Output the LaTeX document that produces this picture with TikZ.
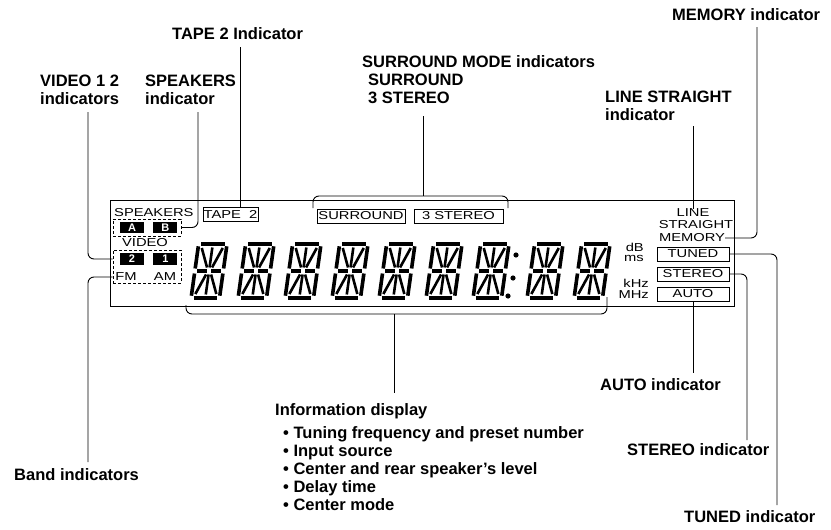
\documentclass[tikz,border=0pt]{standalone}
\usepackage{fontspec}
\setmainfont{Liberation Sans}
\newfontfamily\lcdfont[FakeStretch=1.28]{Liberation Sans}
\usetikzlibrary{positioning}

\tikzset{
  callout/.style={anchor=west, align=left, inner sep=0pt, font=\bfseries\fontsize{16.5}{18}\selectfont},
  leader/.style={line width=0.9pt, rounded corners=6pt},
  lcd/.style={inner sep=0pt, font=\lcdfont\fontsize{11.5}{12}\selectfont},
  lcdbox/.style={lcd, draw, line width=0.8pt, minimum height=14pt},
  keybox/.style={fill=black, text=white, inner sep=0pt, minimum width=24pt, minimum height=11.5pt, font=\bfseries\fontsize{11}{12}\selectfont},
  groupbox/.style={draw, dash pattern=on 3pt off 2pt, line width=0.7pt, inner sep=0pt},
  seg/.style={line width=3.6pt},
  thinseg/.style={line width=2.6pt},
}

\begin{document}
\begin{tikzpicture}[x=1pt, y=-1pt]
    % --- Configuration ---
    \def\digitY{300}    % bottom line of the digits
    \useasboundingbox (0,0) rectangle (831,530);

    % --- Display frame ---
    \draw[line width=1pt] (110,200) rectangle (734,306);

    % --- 14 segment digits ---
    \foreach \dx in {189,236,283,330,377,424,471,525,572} {
        \begin{scope}[shift={(\dx,\digitY)}, y=1pt, xslant=0.14]
            % outer frame and middle bars
            \foreach \p/\q in {{4.3,56.2}/{27.7,56.2}, {1.8,53.7}/{1.8,31.5}, {30.2,53.7}/{30.2,31.5},
                               {4.3,29}/{14,29}, {18,29}/{27.7,29},
                               {1.8,26.5}/{1.8,4.3}, {30.2,26.5}/{30.2,4.3}, {4.3,1.8}/{27.7,1.8}}
                \draw[seg] (\p) -- (\q);
            % centre bars and diagonals
            \foreach \p/\q in {{16,52.5}/{16,32.5}, {5.5,52}/{13.5,32.5}, {26.5,52}/{18.5,32.5},
                               {16,25.5}/{16,5.5}, {13.5,25.5}/{5.5,6}, {18.5,25.5}/{26.5,6}}
                \draw[thinseg] (\p) -- (\q);
        \end{scope}
    }
    % colon and point
    \fill (516,255) circle (2.6pt);
    \fill (513,278) circle (2.6pt);
    \fill (508,296) circle (2.6pt);

    % --- Speakers / video / band ---
    \node[lcd, anchor=west] (spk) at (114,213) {SPEAKERS};
    \node[keybox] (spkA) at (132,227.5) {A};
    \node[keybox, right=9pt of spkA] (spkB) {B};
    \node[groupbox, minimum width=68pt, minimum height=17pt] (spkgrp) at (147,227.5) {};
    \node[lcd] (video) at (145,243) {VIDEO};
    \node[keybox] (vid2) at (132,259) {2};
    \node[keybox, right=9pt of vid2] (vid1) {1};
    \node[lcd] (fm) at (126,277) {FM};
    \node[lcd] (am) at (165,277) {AM};
    \node[groupbox, minimum width=68pt, minimum height=33pt] (vidgrp) at (147,266.5) {};

    % --- Mode boxes ---
    \node[lcdbox, minimum width=55pt] (tape) at (230.5,214) {TAPE\ \ 2};
    \node[lcdbox, minimum width=88pt] (surr) at (361,216) {SURROUND};
    \node[lcdbox, minimum width=89pt] (thr) at (458.5,216) {3 STEREO};

    % --- Right hand indicators ---
    \node[lcd] (line) at (693,213) {LINE};
    \node[lcd] (straight) at (696,225) {STRAIGHT};
    \node[lcd] (memory) at (692,238) {MEMORY};
    \node[lcd, anchor=east] (dB) at (644,247) {dB};
    \node[lcd, anchor=east] (ms) at (644,258) {ms};
    \node[lcd, anchor=east] (kHz) at (649,283) {kHz};
    \node[lcd, anchor=east] (MHz) at (649,295) {MHz};
    \node[lcdbox, minimum width=72pt] (tuned) at (693,254) {TUNED};
    \node[lcdbox, minimum width=72pt] (stereo) at (693,274) {STEREO};
    \node[lcdbox, minimum width=72pt] (auto) at (693,294) {AUTO};

    % --- Callout texts ---
    \node[callout] (lVideo) at (40,90) {VIDEO 1 2\\indicators};
    \node[callout] (lSpk) at (145,90) {SPEAKERS\\indicator};
    \node[callout] (lTape) at (172,34) {TAPE 2 Indicator};
    \node[callout] (lSurr) at (362,80) {SURROUND MODE indicators\\\hspace*{6pt}SURROUND\\\hspace*{6pt}3 STEREO};
    \node[callout] (lLine) at (605,106) {LINE STRAIGHT\\indicator};
    \node[callout] (lMem) at (672,15) {MEMORY indicator};
    \node[callout] (lAuto) at (600,385) {AUTO indicator};
    \node[callout] (lStereo) at (627,450) {STEREO indicator};
    \node[callout] (lTuned) at (684,517) {TUNED indicator};
    \node[callout] (lBand) at (14,475) {Band indicators};
    \node[callout] (lInfo) at (275,457) {Information display\\[5pt]
        \hspace*{8pt}\textbullet\ Tuning frequency and preset number\\
        \hspace*{8pt}\textbullet\ Input source\\
        \hspace*{8pt}\textbullet\ Center and rear speaker's level\\
        \hspace*{8pt}\textbullet\ Delay time\\
        \hspace*{8pt}\textbullet\ Center mode};

    % --- Leader ends ---
    \coordinate (tVid) at (88,112);
    \coordinate (tSpk) at (198,112);
    \coordinate (tTape) at (240,47);
    \coordinate (tSurr) at (423,116);
    \coordinate (tLine) at (693,126);
    \coordinate (tMem) at (757,27);
    \coordinate (tAuto) at (693,373);
    \coordinate (tSte) at (747,440);
    \coordinate (tTun) at (777,505);
    \coordinate (tBand) at (88,462);
    \coordinate (tInfo) at (394,393);
    \coordinate (surrL) at (313,208);
    \coordinate (surrR) at (508,208);
    \coordinate (surrTop) at (423,196);
    \coordinate (infoL) at (186,305);
    \coordinate (infoR) at (607,297);
    \coordinate (infoBot) at (394,314);

    % --- Leaders ---
    \draw[leader] (tVid) |- (vidgrp.west |- vid2);
    \draw[leader] (tSpk) |- (spkgrp.east |- spkB);
    \draw[leader] (tBand) |- (vidgrp.west |- fm);
    \draw[leader] (tTape) -- (tTape |- tape.north);
    \draw[leader] (surrL) -- ++(0,-12) -| (surrR);
    \draw[leader] (tSurr) -- (surrTop);
    \draw[leader] (tLine) -- (line.north);
    \draw[leader] (tMem) |- (memory.east);
    \draw[leader] (auto.south) -- (tAuto);
    \draw[leader] (stereo.east) -| (tSte);
    \draw[leader] (tuned.east) -| (tTun);
    \draw[leader] (infoL) -- ++(0,9) -| (infoR);
    \draw[leader] (infoBot) -- (tInfo);
\end{tikzpicture}
\end{document}
